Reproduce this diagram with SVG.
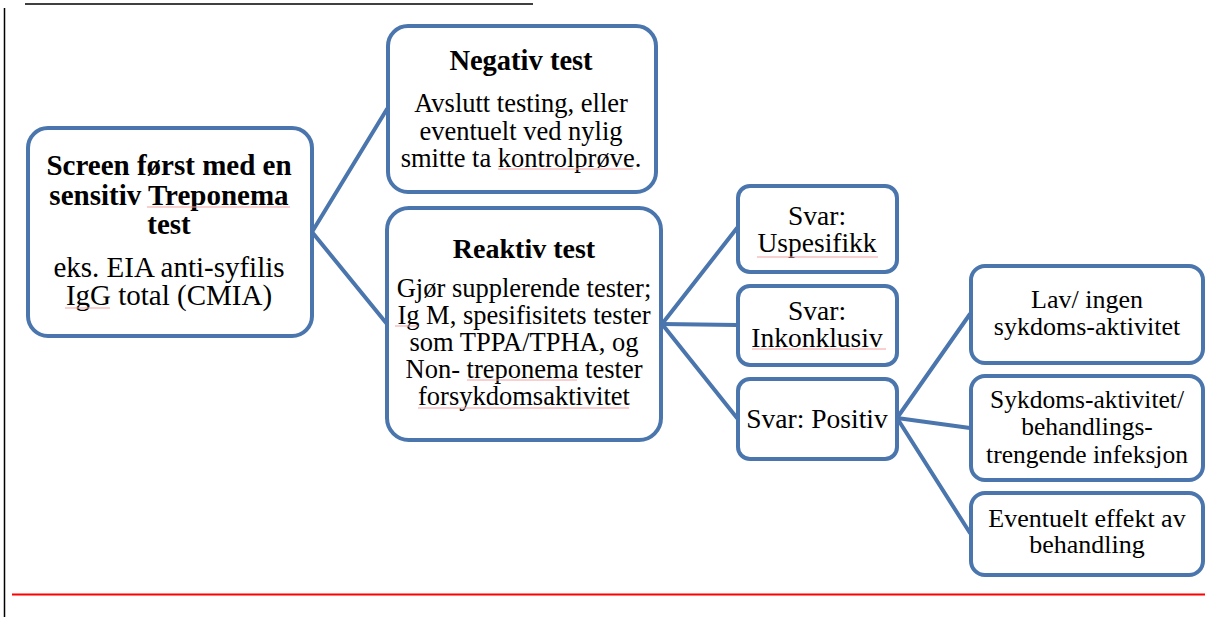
<svg xmlns="http://www.w3.org/2000/svg" width="1205" height="617" viewBox="0 0 1205 617">
<style>
.box{fill:#fff;stroke:#4a76ad;stroke-width:4}
.con line{stroke:#4a76ad;stroke-width:4;stroke-linecap:round}
.sp{stroke:#f3a0a0;stroke-width:1;fill:none}
</style>
<rect width="1205" height="617" fill="#fff"/>
<line x1="25" y1="4" x2="533" y2="4" stroke="#000" stroke-width="1.5"/>
<line x1="4.5" y1="8" x2="4.5" y2="617" stroke="#000" stroke-width="1.5"/>
<line x1="12" y1="594.5" x2="1205" y2="594.5" stroke="#f00" stroke-width="2"/>
<g class="con">
<line x1="312" y1="232" x2="387" y2="109"/>
<line x1="312" y1="232" x2="387" y2="324"/>
<line x1="662" y1="324" x2="737" y2="228"/>
<line x1="662" y1="324" x2="737" y2="325"/>
<line x1="662" y1="324" x2="737" y2="418"/>
<line x1="897" y1="418" x2="970" y2="314"/>
<line x1="897" y1="418" x2="970" y2="428"/>
<line x1="897" y1="418" x2="970" y2="533"/>
</g>
<g font-family="Liberation Serif, Times New Roman, serif" text-anchor="middle" fill="#000" font-size="26.5">
<g id="screen">
<rect class="box" x="28" y="128" width="284" height="208" rx="20"/>
<text font-weight="bold" font-size="29" x="169" y="175">Screen først med en</text>
<text font-weight="bold" font-size="29" x="169" y="205">sensitiv Treponema</text>
<text font-weight="bold" font-size="29" x="169" y="234">test</text>
<text font-size="29" x="169" y="277">eks. EIA anti-syfilis</text>
<text font-size="29" x="169" y="305">IgG total (CMIA)</text>
<line class="sp" x1="147" y1="207" x2="290" y2="207"/>
<line class="sp" x1="65" y1="308" x2="110" y2="308"/>
</g>
<g id="negativ">
<rect class="box" x="388" y="26" width="268" height="166" rx="20"/>
<text font-weight="bold" font-size="28.5" x="521" y="70">Negativ test</text>
<text x="521" y="112">Avslutt testing, eller</text>
<text x="521" y="140">eventuelt ved nylig</text>
<text x="521" y="167">smitte ta kontrolprøve.</text>
<line class="sp" x1="498" y1="169" x2="633" y2="169"/>
</g>
<g id="reaktiv">
<rect class="box" x="387" y="208" width="274" height="232" rx="22"/>
<text font-weight="bold" font-size="28" x="524" y="258">Reaktiv test</text>
<text x="524" y="297">Gjør supplerende tester;</text>
<text x="524" y="324">Ig M, spesifisitets tester</text>
<text x="524" y="351">som TPPA/TPHA, og</text>
<text x="524" y="378">Non- treponema tester</text>
<text x="524" y="405">forsykdomsaktivitet</text>
<line class="sp" x1="395" y1="326" x2="418" y2="326"/>
<line class="sp" x1="467" y1="380" x2="577" y2="380"/>
<line class="sp" x1="418" y1="408" x2="629" y2="408"/>
</g>
<g id="uspesifikk">
<rect class="box" x="738" y="186" width="159" height="86" rx="12"/>
<text font-size="27.5" x="817" y="225">Svar:</text>
<text font-size="27.5" x="817" y="252">Uspesifikk</text>
<line class="sp" x1="757" y1="257" x2="878" y2="257"/>
</g>
<g id="inkonklusiv">
<rect class="box" x="738" y="286" width="159" height="79" rx="12"/>
<text font-size="27.5" x="817" y="320">Svar:</text>
<text font-size="27.5" x="817" y="347">Inkonklusiv</text>
<line class="sp" x1="752" y1="349" x2="886" y2="349"/>
</g>
<g id="positiv">
<rect class="box" x="738" y="379" width="159" height="80" rx="12"/>
<text font-size="27.5" x="817" y="428">Svar: Positiv</text>
</g>
<g id="lav">
<rect class="box" x="971" y="266" width="232" height="97" rx="14"/>
<text font-size="26" x="1087" y="308">Lav/ ingen</text>
<text font-size="26" x="1087" y="335">sykdoms-aktivitet</text>
</g>
<g id="sykdom">
<rect class="box" x="971" y="376" width="232" height="104" rx="14"/>
<text font-size="25.5" x="1087" y="408">Sykdoms-aktivitet/</text>
<text font-size="25.5" x="1087" y="435">behandlings-</text>
<text font-size="25.5" x="1087" y="463">trengende infeksjon</text>
</g>
<g id="effekt">
<rect class="box" x="971" y="493" width="232" height="82" rx="14"/>
<text font-size="26" x="1087" y="527">Eventuelt effekt av</text>
<text font-size="26" x="1087" y="553">behandling</text>
</g>
</g>
</svg>
